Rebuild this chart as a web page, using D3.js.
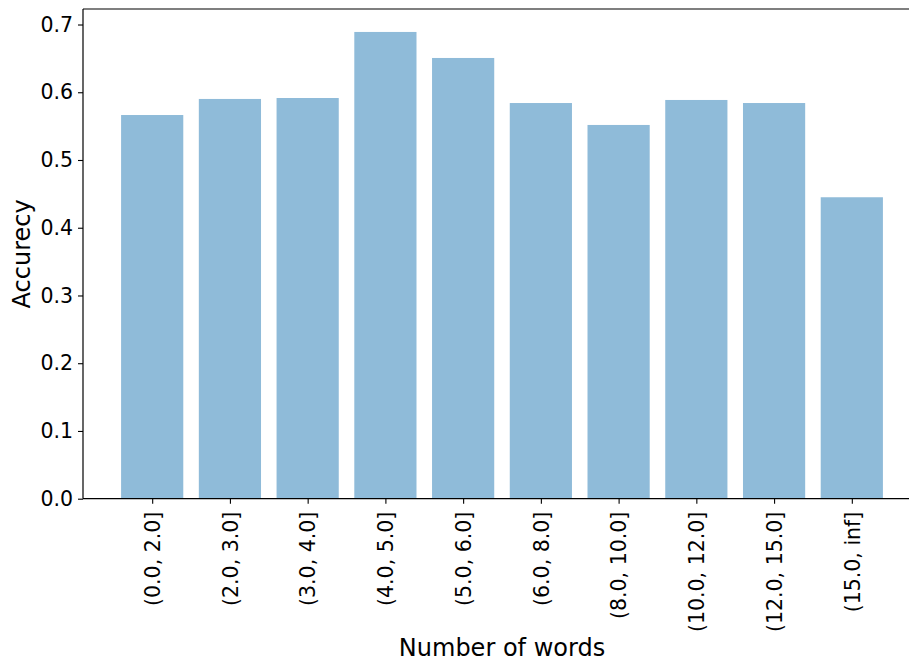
<!DOCTYPE html>
<html>
<head>
<meta charset="utf-8">
<script src="https://cdn.jsdelivr.net/npm/d3@7"></script>
<style>
  body { margin: 0; background: #fff; }
  svg { display: block; font-family: "DejaVu Sans", sans-serif; }
</style>
</head>
<body>
<svg width="909" height="660"></svg>
<script>
var categories = ["(0.0, 2.0]", "(2.0, 3.0]", "(3.0, 4.0]", "(4.0, 5.0]", "(5.0, 6.0]",
  "(6.0, 8.0]", "(8.0, 10.0]", "(10.0, 12.0]", "(12.0, 15.0]", "(15.0, inf]"];
var accuracy = [0.5664, 0.5901, 0.5915, 0.6890, 0.6506, 0.5841, 0.5517, 0.5886, 0.5841, 0.4450];
var yTicks = [0.0, 0.1, 0.2, 0.3, 0.4, 0.5, 0.6, 0.7];

var svg = d3.select("svg");
var plotLeft = 83, plotRight = 921, plotTop = 9, plotBottom = 498.7;

var x = d3.scaleLinear().domain([-0.89, 9.89]).range([plotLeft, plotRight]);
var y = d3.scaleLinear().domain([0, 0.7229]).range([plotBottom, plotTop]);
var barW = 0.8;

// bars
svg.append("g")
  .selectAll("rect")
  .data(accuracy)
  .enter()
  .append("rect")
  .attr("x", function (d, i) { return x(i - barW / 2); })
  .attr("width", function () { return x(barW) - x(0); })
  .attr("y", function (d) { return y(d); })
  .attr("height", function (d) { return y(0) - y(d); })
  .attr("fill", "#1f77b4")
  .attr("fill-opacity", 0.5);

// y axis
var yAxis = svg.append("g")
  .attr("transform", "translate(" + plotLeft + ",0)")
  .call(d3.axisLeft(y).tickValues(yTicks).tickFormat(d3.format(".1f")).tickSize(5).tickPadding(5));

// x axis
var xAxis = svg.append("g")
  .attr("transform", "translate(0," + plotBottom + ")")
  .call(d3.axisBottom(x).tickValues(d3.range(categories.length))
    .tickFormat(function (i) { return categories[i]; }).tickSize(5));

xAxis.selectAll("text")
  .attr("text-anchor", "end")
  .attr("transform", "translate(0,13) rotate(-90)")
  .attr("x", 0)
  .attr("y", 0)
  .attr("dy", "0.35em");

[yAxis, xAxis].forEach(function (g) {
  g.select(".domain").remove();
  g.selectAll("line").attr("stroke", "#000").attr("stroke-width", 1.1);
  g.selectAll("text").attr("fill", "#000").style("font-size", "20.5px")
    .style("font-family", "DejaVu Sans, sans-serif");
});

// spines (right edge falls outside the picture)
svg.append("line").attr("x1", plotLeft).attr("x2", plotRight).attr("y1", plotTop).attr("y2", plotTop)
  .attr("stroke", "#000").attr("stroke-width", 1.2);
svg.append("line").attr("x1", plotLeft).attr("x2", plotRight).attr("y1", plotBottom).attr("y2", plotBottom)
  .attr("stroke", "#000").attr("stroke-width", 1.2);
svg.append("line").attr("x1", plotLeft).attr("x2", plotLeft).attr("y1", plotTop).attr("y2", plotBottom)
  .attr("stroke", "#000").attr("stroke-width", 1.2);

// axis labels
svg.append("text")
  .attr("x", (plotLeft + plotRight) / 2)
  .attr("y", 656)
  .attr("text-anchor", "middle")
  .style("font-size", "24px")
  .text("Number of words");

svg.append("text")
  .attr("transform", "translate(30," + (plotTop + plotBottom) / 2 + ") rotate(-90)")
  .attr("text-anchor", "middle")
  .style("font-size", "24px")
  .text("Accurecy");
</script>
</body>
</html>
